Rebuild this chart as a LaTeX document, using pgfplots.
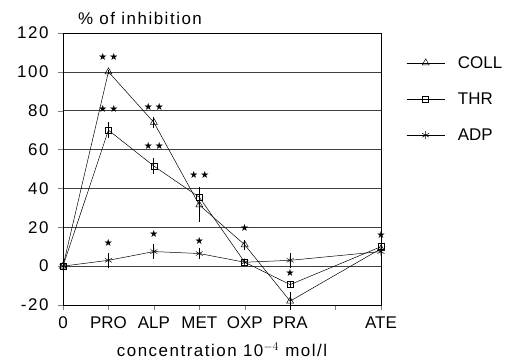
\documentclass[border=0pt]{standalone}
\usepackage{pgfplots}
\pgfplotsset{compat=1.18}
\usepackage{fontspec}
\setmainfont{Liberation Sans}
\newfontfamily\wide[LetterSpace=9]{Liberation Sans}
\newfontfamily\sym{DejaVu Sans}
\begin{document}
\begin{tikzpicture}
\begin{axis}[
  scale only axis, width=318bp, height=272bp,
  clip=false,
  xmin=0, xmax=7, ymin=-20, ymax=120,
  xtick={0,1,2,3,4,5,6,7},
  xticklabels={0,PRO,ALP,MET,OXP,PRA,,ATE},
  ytick={-20,0,20,40,60,80,100,120},
  tick align=outside, tick pos=left,
  major tick length=5bp,
  ymajorgrids, grid style={black!75, line width=0.6pt},
  axis line style={line width=0.6pt},
  /pgf/number format/assume math mode=true,
  tick label style={font=\fontsize{17}{17}\selectfont},
  xticklabel style={yshift=-3bp},
  yticklabel style={xshift=-6bp, font=\fontsize{17}{17}\selectfont\wide},
  xlabel={concentration 10$^{-4}$ mol/l},
  xlabel style={font=\fontsize{17}{17}\selectfont\wide, yshift=-7bp},
  legend style={draw=none, fill=none, at={(1.07,0.93)}, anchor=north west,
    font=\fontsize{17}{17}\selectfont, row sep=19bp, legend cell align=left},
  legend image code/.code={\draw[mark repeat=2,mark phase=2,#1] plot coordinates {(0bp,0bp)(19bp,0bp)(38bp,0bp)};},
]
\addplot[black, line width=0.5pt, mark=triangle, mark size=4bp, mark options={solid, fill=white, line width=0.5pt},
  error bars/.cd, y dir=both, y explicit, error bar style={line width=0.9pt}, error mark=none]
  coordinates {(0,0) +- (0,0) (1,100) +- (0,1) (2,74) +- (0,3) (3,31.5) +- (0,9) (4,11) +- (0,2.5) (5,-18) +- (0,4.5) (7,9) +- (0,2)};
\addlegendentry{\hspace{11bp}COLL}
\addplot[black, line width=0.5pt, mark=square, mark size=3bp, mark options={solid, fill=white, line width=0.5pt},
  error bars/.cd, y dir=both, y explicit, error bar style={line width=0.9pt}, error mark=none]
  coordinates {(0,0) +- (0,0) (1,70) +- (0,4) (2,51.5) +- (0,4) (3,35.5) +- (0,5) (4,2) +- (0,1) (5,-9.5) +- (0,2) (7,10) +- (0,2)};
\addlegendentry{\hspace{11bp}THR}
\addplot[black, line width=0.5pt, mark=asterisk, mark size=4bp, mark options={solid, line width=0.5pt},
  error bars/.cd, y dir=both, y explicit, error bar style={line width=0.9pt}, error mark=none]
  coordinates {(0,0) +- (0,0) (1,3) +- (0,4) (2,7.5) +- (0,4) (3,6.5) +- (0,3) (4,2) +- (0,1) (5,3) +- (0,4) (7,7.5) +- (0,3)};
\addlegendentry{\hspace{11bp}ADP}
\addplot[only marks, mark=none, nodes near coords, point meta=explicit symbolic,
  every node near coord/.append style={anchor=center, inner sep=0pt, font=\fontsize{10}{10}\selectfont\sym}]
  table[meta=lab] {
x y lab
1 107.7 {★\kern2bp★}
1 81 {★\kern2bp★}
2 82 {★\kern2bp★}
2 62 {★\kern2bp★}
3 47 {★\kern2bp★}
4 19.5 {★}
1 12 {★}
2 16.5 {★}
3 13 {★}
5 -3.4 {★}
7 16 {★}
};
\node[anchor=base west, inner sep=0pt, font=\fontsize{17}{17}\selectfont\wide] at ([xshift=15bp,yshift=8bp]axis description cs:0,1) {\% of inhibition};
\end{axis}
\path (current axis.south west) ++(-63bp,-58bp) rectangle ++(513bp,363bp);
\end{tikzpicture}
\end{document}
